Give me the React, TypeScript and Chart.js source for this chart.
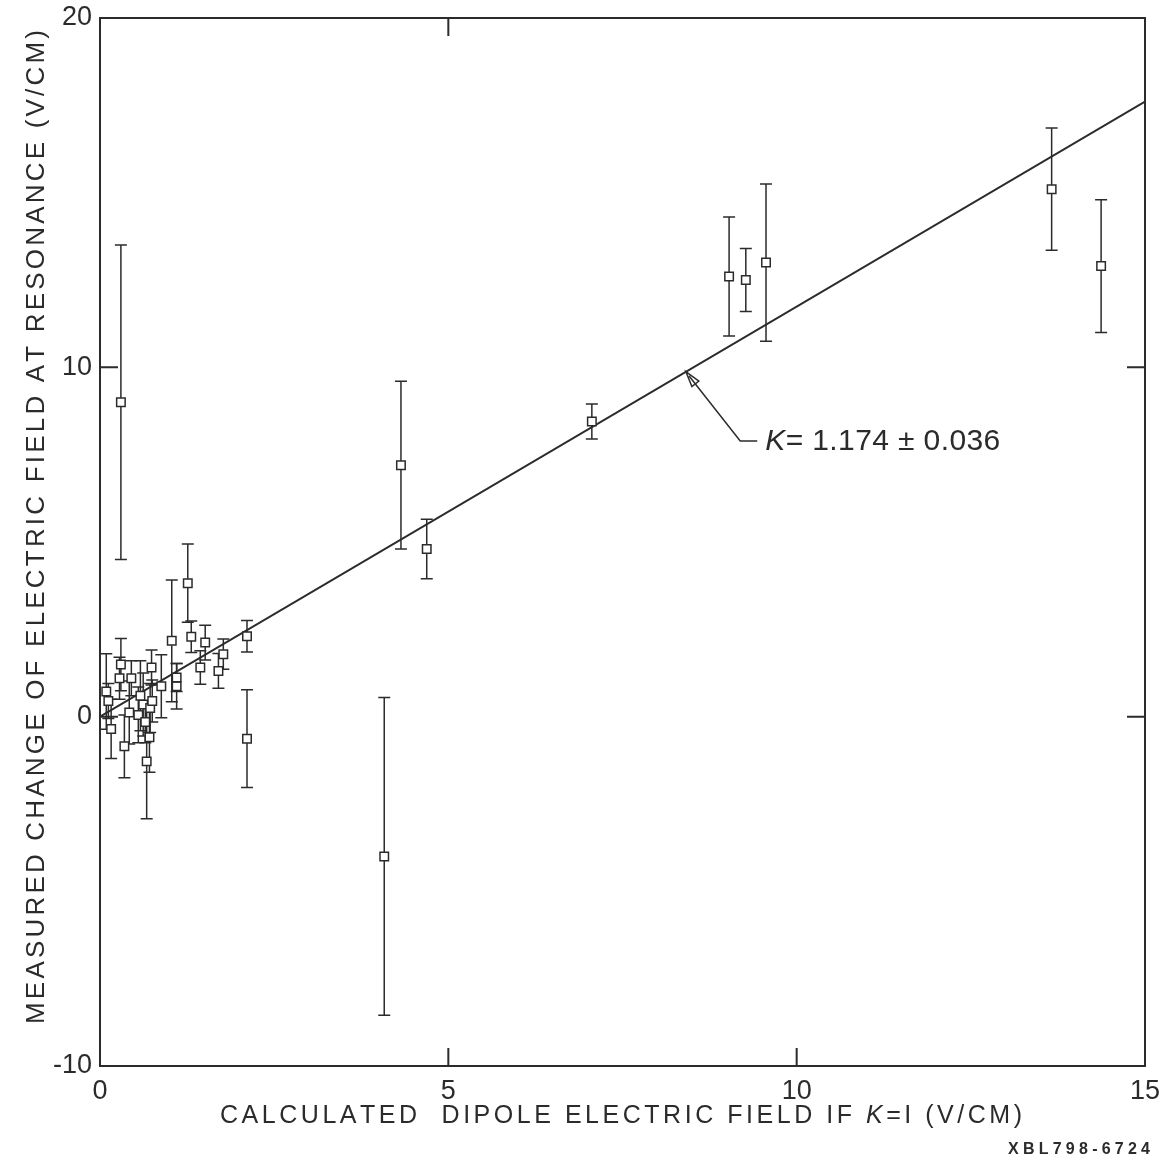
import React, { useEffect, useRef } from 'react';
import { Chart, registerables } from 'chart.js';

Chart.register(...registerables);

// ---- data ----
const xValues = [
  0.30, 4.32, 4.69, 4.08, 7.06, 9.03, 9.27, 9.56, 13.66, 14.37,
  2.11, 2.11, 1.26, 1.31, 1.03, 1.51, 1.44, 1.77, 1.70, 0.74,
  0.30, 0.28, 0.45, 0.09, 0.88, 1.10, 1.10, 0.16, 0.35, 0.71,
  0.67, 0.42, 0.55, 0.62, 0.65, 0.72, 0.75, 0.12, 0.58,
];
const yValues = [
  9.0, 7.2, 4.8, -4.0, 8.45, 12.6, 12.5, 13.0, 15.1, 12.9,
  2.3, -0.63, 3.82, 2.29, 2.17, 2.12, 1.41, 1.79, 1.31, 1.41,
  1.49, 1.10, 1.10, 0.72, 0.87, 0.87, 1.12, -0.35, -0.85, -0.59,
  -1.28, 0.12, 0.05, 0.35, -0.15, 0.25, 0.45, 0.45, 0.6,
];
const yErrors = [
  4.5, 2.4, 0.85, 4.55, 0.5, 1.7, 0.9, 2.25, 1.75, 1.9,
  0.45, 1.4, 1.12, 0.45, 1.74, 0.5, 0.48, 0.43, 0.5, 0.5,
  0.75, 0.6, 0.5, 1.08, 0.9, 0.65, 0.4, 0.85, 0.9, 1.0,
  1.64, 0.9, 0.8, 0.9, 0.6, 0.7, 0.6, 0.5, 1.0,
];
const fitSlope = 1.174;
const fitSlopeError = 0.036;
const fitXRange = [0, 15];
const xTickValues = [0, 5, 10, 15];
const yTickValues = [-10, 0, 10, 20];
const bottomInnerTicks = [5, 10];
const topInnerTicks = [5];
const leftInnerTicks = [10, 0];
const rightInnerTicks = [10, 0];
const annotationArrowTipX = 8.41;
const annotationElbow = { x: 9.19, y: 7.89 };

const xTitleParts = [
  { text: 'CALCULATED  DIPOLE ELECTRIC FIELD IF ', italic: false },
  { text: 'K', italic: true },
  { text: '=I (V/CM)', italic: false },
];
const yTitle = 'MEASURED CHANGE OF ELECTRIC FIELD AT RESONANCE (V/CM)';
const footnote = 'XBL798-6724';

const INK = '#2b2b2b';
const FONT = "'Liberation Sans', 'DejaVu Sans', sans-serif";

type Part = { text: string; italic: boolean };

function drawSpaced(
  ctx: CanvasRenderingContext2D,
  parts: Part[],
  size: number,
  weight: string,
  x0: number,
  x1: number,
  y: number
) {
  const chars: { c: string; italic: boolean; w: number }[] = [];
  parts.forEach((p) => {
    for (const c of p.text) {
      ctx.font = `${p.italic ? 'italic ' : ''}${weight} ${size}px ${FONT}`;
      chars.push({ c, italic: p.italic, w: ctx.measureText(c).width });
    }
  });
  const natural = chars.reduce((s, c) => s + c.w, 0);
  const gap = chars.length > 1 ? (x1 - x0 - natural) / (chars.length - 1) : 0;
  let x = x0;
  ctx.textAlign = 'left';
  ctx.textBaseline = 'middle';
  chars.forEach((ch) => {
    ctx.font = `${ch.italic ? 'italic ' : ''}${weight} ${size}px ${FONT}`;
    ctx.fillText(ch.c, x, y);
    x += ch.w + gap;
  });
}

const decorPlugin = {
  id: 'decor',
  beforeDatasetsDraw(chart: any) {
    const { ctx, scales } = chart;
    const x = scales.x;
    const y = scales.y;
    ctx.save();
    ctx.strokeStyle = INK;
    ctx.lineWidth = 1.5;
    const cap = 6;
    xValues.forEach((xv, i) => {
      const px = x.getPixelForValue(xv);
      const top = y.getPixelForValue(yValues[i] + yErrors[i]);
      const bot = y.getPixelForValue(yValues[i] - yErrors[i]);
      ctx.beginPath();
      ctx.moveTo(px, top);
      ctx.lineTo(px, bot);
      ctx.moveTo(px - cap, top);
      ctx.lineTo(px + cap, top);
      ctx.moveTo(px - cap, bot);
      ctx.lineTo(px + cap, bot);
      ctx.stroke();
    });
    ctx.restore();
  },
  afterDraw(chart: any) {
    const { ctx, scales, chartArea } = chart;
    const x = scales.x;
    const y = scales.y;
    const { left, right, top, bottom } = chartArea;
    ctx.save();
    ctx.strokeStyle = INK;
    ctx.lineWidth = 2;
    ctx.strokeRect(left, top, right - left, bottom - top);
    const tl = 18;
    ctx.beginPath();
    bottomInnerTicks.forEach((v) => {
      const px = x.getPixelForValue(v);
      ctx.moveTo(px, bottom);
      ctx.lineTo(px, bottom - tl);
    });
    topInnerTicks.forEach((v) => {
      const px = x.getPixelForValue(v);
      ctx.moveTo(px, top);
      ctx.lineTo(px, top + tl);
    });
    leftInnerTicks.forEach((v) => {
      const py = y.getPixelForValue(v);
      ctx.moveTo(left, py);
      ctx.lineTo(left + tl, py);
    });
    rightInnerTicks.forEach((v) => {
      const py = y.getPixelForValue(v);
      ctx.moveTo(right, py);
      ctx.lineTo(right - tl, py);
    });
    ctx.stroke();

    // annotation arrow
    const tipX = x.getPixelForValue(annotationArrowTipX);
    const tipY = y.getPixelForValue(annotationArrowTipX * fitSlope);
    const ex = x.getPixelForValue(annotationElbow.x);
    const ey = y.getPixelForValue(annotationElbow.y);
    ctx.lineWidth = 1.5;
    ctx.beginPath();
    ctx.moveTo(ex + 17, ey);
    ctx.lineTo(ex, ey);
    ctx.lineTo(tipX + 3, tipY + 4);
    ctx.stroke();
    const ang = Math.atan2(tipY - ey, tipX - ex);
    const ah = 16;
    const spread = 0.28;
    ctx.beginPath();
    ctx.moveTo(tipX + ah * Math.cos(ang + Math.PI - spread), tipY + ah * Math.sin(ang + Math.PI - spread));
    ctx.lineTo(tipX, tipY);
    ctx.lineTo(tipX + ah * Math.cos(ang + Math.PI + spread), tipY + ah * Math.sin(ang + Math.PI + spread));
    ctx.closePath();
    ctx.stroke();

    ctx.fillStyle = INK;
    drawSpaced(
      ctx,
      [
        { text: 'K', italic: true },
        { text: '= ' + fitSlope.toFixed(3) + ' ± ' + fitSlopeError.toFixed(3), italic: false },
      ],
      30,
      'normal',
      ex + 25,
      ex + 260,
      ey + 1
    );

    // axis titles
    drawSpaced(ctx, xTitleParts, 25, 'normal', 220, 1022, 1116);
    ctx.save();
    ctx.translate(37, 527);
    ctx.rotate(-Math.PI / 2);
    drawSpaced(ctx, [{ text: yTitle, italic: false }], 26, 'normal', -497, 497, 0);
    ctx.restore();
    drawSpaced(ctx, [{ text: footnote, italic: false }], 16, 'bold', 1008, 1150, 1150);
    ctx.restore();
  },
};

export default function App() {
  const ref = useRef<HTMLCanvasElement | null>(null);
  useEffect(() => {
    if (!ref.current) return;
    const points = xValues.map((xv, i) => ({ x: xv, y: yValues[i] }));
    const fitLine = fitXRange.map((xv) => ({ x: xv, y: xv * fitSlope }));
    const chart = new Chart(ref.current, {
      type: 'scatter',
      data: {
        datasets: [
          {
            type: 'scatter',
            label: 'data',
            data: points,
            pointStyle: 'rect',
            pointRadius: 6,
            backgroundColor: '#ffffff',
            borderColor: INK,
            borderWidth: 1.5,
          },
          {
            type: 'line',
            label: 'fit',
            data: fitLine,
            borderColor: INK,
            borderWidth: 2,
            pointRadius: 0,
            fill: false,
          },
        ],
      },
      options: {
        animation: false,
        responsive: false,
        events: [],
        layout: { padding: { left: 0, right: 20, top: 18, bottom: 0 } },
        plugins: { legend: { display: false }, tooltip: { enabled: false } },
        scales: {
          x: {
            type: 'linear',
            min: 0,
            max: 15,
            afterBuildTicks: (s: any) => {
              s.ticks = xTickValues.map((v) => ({ value: v }));
            },
            afterFit: (s: any) => {
              s.height = 97;
              s.paddingLeft = 0;
              s.paddingRight = 0;
            },
            grid: { display: false, drawTicks: false },
            border: { display: false },
            ticks: {
              padding: 9,
              color: INK,
              maxRotation: 0,
              font: { family: FONT, size: 27 },
            },
          },
          y: {
            type: 'linear',
            min: -10,
            max: 20,
            afterBuildTicks: (s: any) => {
              s.ticks = yTickValues.map((v) => ({ value: v }));
            },
            afterFit: (s: any) => {
              s.width = 100;
              s.paddingTop = 0;
              s.paddingBottom = 0;
            },
            grid: { display: false, drawTicks: false },
            border: { display: false },
            ticks: {
              padding: 8,
              color: INK,
              font: { family: FONT, size: 27 },
            },
          },
        },
      },
      plugins: [decorPlugin],
    } as any);
    return () => chart.destroy();
  }, []);
  return (
    <div style={{ position: 'absolute', left: 0, top: 0, width: 1165, height: 1163, background: '#fff' }}>
      <canvas ref={ref} width={1165} height={1163} style={{ display: 'block' }} />
    </div>
  );
}
